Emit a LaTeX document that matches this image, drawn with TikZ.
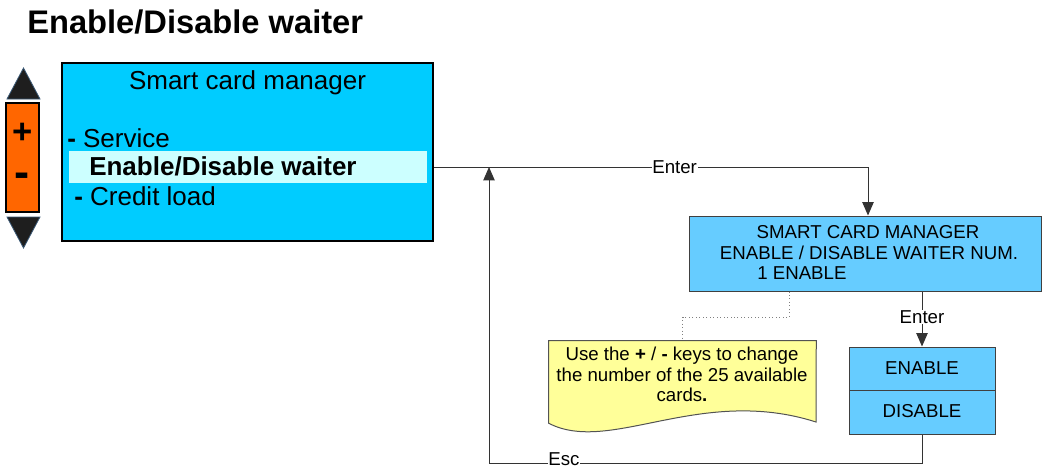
\documentclass[tikz,border=0pt]{standalone}
\usepackage{fontspec}
\setmainfont{Liberation Sans}
\usetikzlibrary{arrows.meta,fit}
\definecolor{maincyan}{HTML}{00CCFF}
\definecolor{hlcyan}{HTML}{CCFFFF}
\definecolor{boxblue}{HTML}{66CCFF}
\definecolor{noteyellow}{HTML}{FFFF99}
\definecolor{keyorange}{HTML}{FF6600}
\definecolor{keydark}{HTML}{1E1E1E}
\definecolor{keyedge}{HTML}{3A5875}
\definecolor{edgegray}{HTML}{404040}
\begin{document}
\begin{tikzpicture}[x=0.75pt,y=-0.75pt,
  bigtxt/.style={font=\fontsize{19.5}{23}\selectfont},
  smalltxt/.style={font=\fontsize{14}{17}\selectfont},
  framebox/.style={inner sep=0pt,draw=edgegray,line width=0.75pt},
  conn/.style={line width=0.75pt,draw=black!80},
  arr/.style={-{Triangle[length=10pt,width=8.5pt]}},
  lbl/.style={smalltxt,fill=white,inner sep=0.5pt}]
\useasboundingbox (0,0) rectangle (1042,468);

% title
\node[anchor=base west,inner sep=0pt,font=\fontsize{24.5}{28}\selectfont\bfseries] (title) at (27,33) {Enable/Disable waiter};

% keypad
\draw[fill=keydark,draw=keyedge,line width=0.6pt] (7,99) -- (23.5,68) -- (40,99) -- cycle;
\node[fit={(6,103)(39,212)},inner sep=0pt,draw=black,fill=keyorange,line width=1.5pt] (keypad) {};
\node[font=\fontsize{26}{28}\selectfont\bfseries,inner sep=0pt] (kplus) at (22.5,133) {+};
\node[font=\fontsize{34}{36}\selectfont\bfseries,inner sep=0pt] (kminus) at (22.5,180) {-};
\draw[fill=keydark,draw=keyedge,line width=0.6pt] (7,217) -- (40,217) -- (23.5,248) -- cycle;

% main screen
\node[fit={(62,63)(433,241)},inner sep=0pt,draw=black,fill=maincyan,line width=2.2pt] (main) {};
\node[fit={(69,151)(427,183)},inner sep=0pt,fill=hlcyan] (hl) {};
\node[bigtxt,anchor=base,inner sep=0pt] (mtitle) at (247.5,89) {Smart card manager};
\node[bigtxt,anchor=base west,inner sep=0pt] (mserv) at (67,147) {\textbf{-} Service};
\node[bigtxt,anchor=base west,inner sep=0pt] (mwait) at (89,175) {\textbf{Enable/Disable waiter}};
\node[bigtxt,anchor=base west,inner sep=0pt] (mcred) at (74,205) {\textbf{-} Credit load};

% second screen
\node[fit={(689,216)(1041,291)},framebox,fill=boxblue] (box2) {};
\node[smalltxt,anchor=base,inner sep=0pt] (b2l1) at (868,238) {SMART CARD MANAGER};
\node[smalltxt,anchor=base,inner sep=0pt] (b2l2) at (869,259) {ENABLE / DISABLE WAITER NUM.};
\node[smalltxt,anchor=base west,inner sep=0pt] (b2l3) at (757,279) {1 ENABLE};

% enable / disable box
\node[fit={(849,347)(995,390)},framebox,fill=boxblue] (eb) {};
\node[fit={(849,390)(995,434)},framebox,fill=boxblue] (db) {};
\node[smalltxt,anchor=base,inner sep=0pt] (ebt) at (922,374) {ENABLE};
\node[smalltxt,anchor=base,inner sep=0pt] (dbt) at (922,417) {DISABLE};

% note (document shape)
\node[fit={(549,341)(816,423)},inner sep=0pt] (note) {};
\draw[fill=noteyellow,draw=edgegray!90,line width=0.75pt]
  (note.south west) -- (note.north west) -- (note.north east) -- (816,422)
  .. controls (700,385) and (610,455) .. (note.south west) -- cycle;
\node[smalltxt,anchor=base,inner sep=0pt] (n1) at (682,360) {Use the \textbf{+} / \textbf{-} keys to change};
\node[smalltxt,anchor=base,inner sep=0pt] (n2) at (682,381) {the number of the 25 available};
\node[smalltxt,anchor=base,inner sep=0pt] (n3) at (682,401) {cards\textbf{.}};

% coordinates
\coordinate (entertop) at (868,167);
\coordinate (escR) at (922,463);
\coordinate (escL) at (489,463);
\coordinate (d1) at (789,317);
\coordinate (d2) at (682.5,317);

% connectors
\draw[conn,arr] (main.east |- hl.center) -- node[lbl,pos=0.554]{Enter} (entertop) -- (entertop |- box2.north);
\draw[conn,arr] (box2.south -| eb.north) -- node[lbl,pos=0.46]{Enter} (eb.north);
\draw[conn,arr] (db.south) -- (escR) -- node[lbl,pos=0.827,yshift=3.2pt,inner ysep=0pt]{Esc} (escL) -- (escL |- hl.center);
\draw[draw=gray,line width=0.6pt,dotted] (d1 |- box2.south) -- (d1) -- (d2) -- (d2 |- note.north);
\end{tikzpicture}
\end{document}
